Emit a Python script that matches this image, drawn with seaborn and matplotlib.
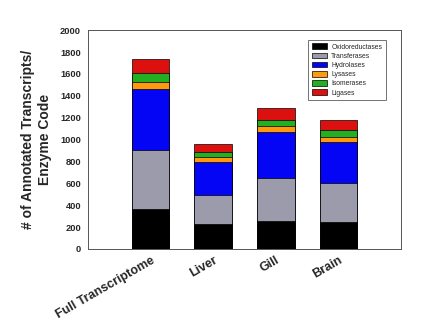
import pandas as pd
import seaborn as sns
import matplotlib.pyplot as plt

tissues = ["Full Transcriptome", "Liver", "Gill", "Brain"]
classes = ["Oxidoreductases", "Transferases", "Hydrolases", "Lysases", "Isomerases", "Ligases"]
oxidoreductases = [362, 225, 255, 246]
transferases = [538, 267, 389, 353]
hydrolases = [559, 307, 426, 377]
lysases = [70, 43, 49, 51]
isomerases = [76, 42, 63, 61]
ligases = [130, 76, 110, 94]
colors = ["#000000", "#9b9bab", "#0505f5", "#ff9a10", "#22b022", "#dd1010"]

df = pd.DataFrame({
    "Tissue": tissues,
    "Oxidoreductases": oxidoreductases,
    "Transferases": transferases,
    "Hydrolases": hydrolases,
    "Lysases": lysases,
    "Isomerases": isomerases,
    "Ligases": ligases,
})
cum = df[classes].cumsum(axis=1)
cum["Tissue"] = df["Tissue"]

sns.set_style("white")
plt.rcParams["font.family"] = ["Liberation Sans", "DejaVu Sans"]

fig = plt.figure(figsize=(4.29, 3.31), dpi=100)
ax = fig.add_axes([0.205, 0.248, 0.73, 0.661])

# stacked bars: draw cumulative totals from the top down
for name, col in reversed(list(zip(classes, colors))):
    sns.barplot(data=cum, x="Tissue", y=name, color=col, width=0.6,
                edgecolor="black", linewidth=0.5, ax=ax, label=name, saturation=1)

ax.set_xlim(-1, 4)
ax.set_ylim(0, 2000)
ax.set_yticks(range(0, 2001, 200))
ax.set_xlabel("")
ax.set_ylabel("# of Annotated Transcripts/\nEnzyme Code", fontsize=10, fontweight="bold", labelpad=6)
ax.tick_params(axis="y", labelsize=6.7, length=3, width=0.6, color="#555555", pad=2)
ax.tick_params(axis="x", labelsize=9, length=3, width=0.6, color="#555555", pad=1)
for lab in ax.get_yticklabels():
    lab.set_fontweight("bold")
for lab in ax.get_xticklabels():
    lab.set_fontweight("bold")
    lab.set_rotation(30)
    lab.set_ha("right")
    lab.set_rotation_mode("anchor")
for sp in ax.spines.values():
    sp.set_visible(True)
    sp.set_color("#555555")
    sp.set_linewidth(0.7)

handles, labels = ax.get_legend_handles_labels()
order = [labels.index(c) for c in classes]
leg = ax.legend([handles[i] for i in order], [labels[i] for i in order],
                loc="upper right", bbox_to_anchor=(0.962, 0.972), fontsize=4.9,
                frameon=True, fancybox=False, edgecolor="#333333",
                handlelength=2.2, handleheight=0.9, labelspacing=0.3,
                borderpad=0.55, handletextpad=0.6)
leg.get_frame().set_linewidth(0.6)

fig.savefig("out.png", dpi=100)
